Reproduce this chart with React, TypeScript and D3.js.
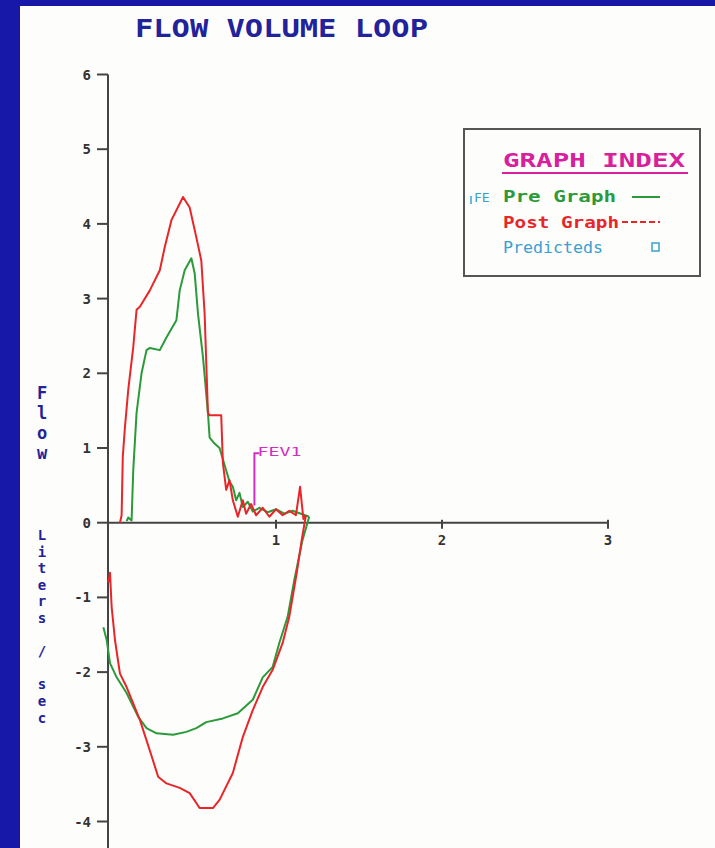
import * as d3 from "d3";
import { useEffect, useRef } from "react";

// expiratory / inspiratory traces, [volume L, flow L/s]
const preExp = [
  [0.10, 0.02], [0.11, 0.07], [0.13, 0.03], [0.14, 0.7], [0.16, 1.47], [0.19, 2.0],
  [0.22, 2.31], [0.24, 2.34], [0.30, 2.31], [0.34, 2.48], [0.40, 2.71], [0.42, 3.11],
  [0.45, 3.38], [0.49, 3.54], [0.51, 3.34], [0.53, 2.8], [0.56, 2.22], [0.59, 1.47],
  [0.60, 1.14], [0.63, 1.06], [0.66, 1.0], [0.70, 0.7], [0.72, 0.55], [0.74, 0.48],
  [0.76, 0.3], [0.78, 0.4], [0.80, 0.21], [0.83, 0.28], [0.86, 0.15], [0.9, 0.2],
  [0.95, 0.14], [1.0, 0.18], [1.05, 0.12], [1.1, 0.16], [1.15, 0.12], [1.2, 0.08],
];
const preInsp = [
  [1.2, 0.08], [1.16, -0.23], [1.11, -0.77], [1.07, -1.26], [1.02, -1.61], [0.98, -1.93],
  [0.92, -2.07], [0.86, -2.37], [0.77, -2.55], [0.68, -2.62], [0.58, -2.67], [0.52, -2.75],
  [0.46, -2.8], [0.38, -2.84], [0.28, -2.82], [0.22, -2.75], [0.17, -2.6], [0.10, -2.28],
  [0.04, -2.07], [0.0, -1.88], [-0.02, -1.57], [-0.04, -1.4],
];
const postExp = [
  [0.06, 0], [0.07, 0.1], [0.077, 0.88], [0.09, 1.28], [0.11, 1.78], [0.14, 2.35],
  [0.16, 2.85], [0.18, 2.89], [0.24, 3.11], [0.30, 3.38], [0.33, 3.69], [0.37, 4.05],
  [0.44, 4.36], [0.48, 4.22], [0.52, 3.82], [0.55, 3.51], [0.57, 2.8], [0.59, 1.47],
  [0.60, 1.44], [0.67, 1.44], [0.68, 0.8], [0.70, 0.44], [0.72, 0.57], [0.74, 0.3],
  [0.77, 0.08], [0.80, 0.3], [0.82, 0.12], [0.85, 0.25], [0.88, 0.1], [0.92, 0.2],
  [0.96, 0.08], [1.0, 0.18], [1.04, 0.1], [1.08, 0.16], [1.12, 0.1], [1.145, 0.48],
  [1.165, 0.05], [1.18, 0.1],
];
const postInsp = [
  [1.18, 0.1], [1.155, -0.23], [1.125, -0.67], [1.08, -1.26], [1.04, -1.61], [0.98, -1.97],
  [0.92, -2.2], [0.86, -2.51], [0.80, -2.87], [0.74, -3.35], [0.66, -3.71], [0.62, -3.82],
  [0.54, -3.82], [0.48, -3.62], [0.42, -3.55], [0.34, -3.49], [0.29, -3.4], [0.25, -3.12],
  [0.18, -2.64], [0.10, -2.2], [0.06, -2.02], [0.03, -1.57], [0.01, -1.13], [0.0, -0.67],
  [-0.01, -0.8],
];

const xTicks = [1, 2, 3];
const yTicks = [-4, -3, -2, -1, 0, 1, 2, 3, 4, 5, 6];
const fev1 = 0.87;
const legendItems = ["Pre Graph", "Post Graph", "Predicteds"];
const axisTitle1 = "Flow";
const axisTitle2 = "Liters / sec";

export default function App() {
  const ref = useRef(null);

  useEffect(() => {
    const svg = d3.select(ref.current);
    svg.selectAll("*").remove();
    const W = 715, H = 848;
    const mono = "'DejaVu Sans Mono', monospace";

    svg.append("rect").attr("width", W).attr("height", H).attr("fill", "#1818a8");
    svg.append("rect").attr("x", 20).attr("y", 6).attr("width", W - 20).attr("height", H - 6).attr("fill", "#fdfdfb");

    const x = d3.scaleLinear().domain([0, 3]).range([110, 608]);
    const y = d3.scaleLinear().domain([0, 6]).range([522.7, 74.5]);

    svg.append("text").attr("x", 135).attr("y", 37).attr("textLength", 293)
      .attr("lengthAdjust", "spacingAndGlyphs")
      .attr("font-family", mono).attr("font-weight", "bold").attr("font-size", 25)
      .attr("fill", "#22229a").text("FLOW VOLUME LOOP");

    // axes
    const axisColor = "#444";
    svg.append("line").attr("x1", 108).attr("x2", 108).attr("y1", y(6)).attr("y2", H)
      .attr("stroke", axisColor).attr("stroke-width", 2);
    svg.append("line").attr("x1", 108).attr("x2", x(3)).attr("y1", y(0)).attr("y2", y(0))
      .attr("stroke", axisColor).attr("stroke-width", 2);

    yTicks.forEach((t) => {
      svg.append("line").attr("x1", 97).attr("x2", 108).attr("y1", y(t)).attr("y2", y(t))
        .attr("stroke", axisColor).attr("stroke-width", 2);
      svg.append("text").attr("x", 91).attr("y", y(t) + 5).attr("text-anchor", "end")
        .attr("font-family", mono).attr("font-weight", "bold").attr("font-size", 14)
        .attr("fill", "#333").text(t);
    });
    xTicks.forEach((t) => {
      svg.append("line").attr("x1", x(t)).attr("x2", x(t)).attr("y1", y(0) - 3).attr("y2", y(0) + 6)
        .attr("stroke", axisColor).attr("stroke-width", 2);
      svg.append("text").attr("x", x(t)).attr("y", y(0) + 22).attr("text-anchor", "middle")
        .attr("font-family", mono).attr("font-weight", "bold").attr("font-size", 14)
        .attr("fill", "#333").text(t);
    });

    // y axis title, stacked letters
    const lab = svg.append("g").attr("font-family", mono).attr("font-weight", "bold")
      .attr("fill", "#22229a").attr("text-anchor", "middle");
    const stack = (s, y0, step, size) => {
      s.split("").forEach((ch, i) => {
        if (ch === " ") return;
        lab.append("text").attr("x", 42).attr("y", y0 + i * step).attr("font-size", size).text(ch);
      });
    };
    stack(axisTitle1, 399, 20, 17);
    stack(axisTitle2, 540, 16.6, 14);

    const line = d3.line().x((d) => x(d[0])).y((d) => y(d[1]));
    const green = "#2a9a3a", red = "#e8262a";
    [[preExp, green], [preInsp, green], [postExp, red], [postInsp, red]].forEach(([data, c]) => {
      svg.append("path").attr("d", line(data)).attr("fill", "none").attr("stroke", c)
        .attr("stroke-width", 2).attr("stroke-linejoin", "round");
    });

    // FEV1 marker
    svg.append("path")
      .attr("d", `M${x(fev1) + 5},${y(0.93)} H${x(fev1)} V${y(0.23)}`)
      .attr("fill", "none").attr("stroke", "#d030c0").attr("stroke-width", 2);
    svg.append("text").attr("x", x(fev1) + 3).attr("y", y(0.93) + 3).attr("textLength", 44)
      .attr("lengthAdjust", "spacingAndGlyphs").attr("font-family", mono)
      .attr("font-size", 13).attr("fill", "#d030c0").text("FEV1");

    // legend
    svg.append("rect").attr("x", 464).attr("y", 129).attr("width", 236).attr("height", 147)
      .attr("fill", "none").attr("stroke", "#555").attr("stroke-width", 2);
    svg.append("text").attr("x", 503).attr("y", 167).attr("textLength", 182)
      .attr("lengthAdjust", "spacingAndGlyphs")
      .attr("font-family", mono).attr("font-weight", "bold").attr("font-size", 19)
      .attr("fill", "#d8209c").text("GRAPH INDEX");
    svg.append("line").attr("x1", 502).attr("x2", 688).attr("y1", 173).attr("y2", 173)
      .attr("stroke", "#d8209c").attr("stroke-width", 2);
    const legColors = [green, red, "#3aa0d0"];
    const legY = [202, 228, 253];
    const legLen = [113, 116, 100];
    legendItems.forEach((s, i) => {
      svg.append("text").attr("x", 503).attr("y", legY[i]).attr("textLength", legLen[i])
        .attr("lengthAdjust", "spacingAndGlyphs")
        .attr("font-family", mono).attr("font-weight", i === 2 ? "normal" : "bold").attr("font-size", 15)
        .attr("fill", legColors[i]).text(s);
    });
    svg.append("text").attr("x", 474).attr("y", 202).attr("font-family", mono)
      .attr("font-size", 13).attr("fill", "#3aa0d0").text("FE");
    svg.append("line").attr("x1", 471).attr("x2", 471).attr("y1", 196).attr("y2", 204)
      .attr("stroke", "#3aa0d0").attr("stroke-width", 1.5);
    svg.append("line").attr("x1", 632).attr("x2", 660).attr("y1", 197).attr("y2", 197)
      .attr("stroke", green).attr("stroke-width", 2);
    svg.append("line").attr("x1", 622).attr("x2", 660).attr("y1", 222).attr("y2", 222)
      .attr("stroke", red).attr("stroke-width", 2).attr("stroke-dasharray", "6,3");
    svg.append("rect").attr("x", 652).attr("y", 243).attr("width", 7).attr("height", 8)
      .attr("fill", "none").attr("stroke", "#3aa0d0").attr("stroke-width", 1.5);
  }, []);

  return (
    <svg ref={ref} width={715} height={848}
      style={{ position: "absolute", left: 0, top: 0, display: "block" }} />
  );
}
